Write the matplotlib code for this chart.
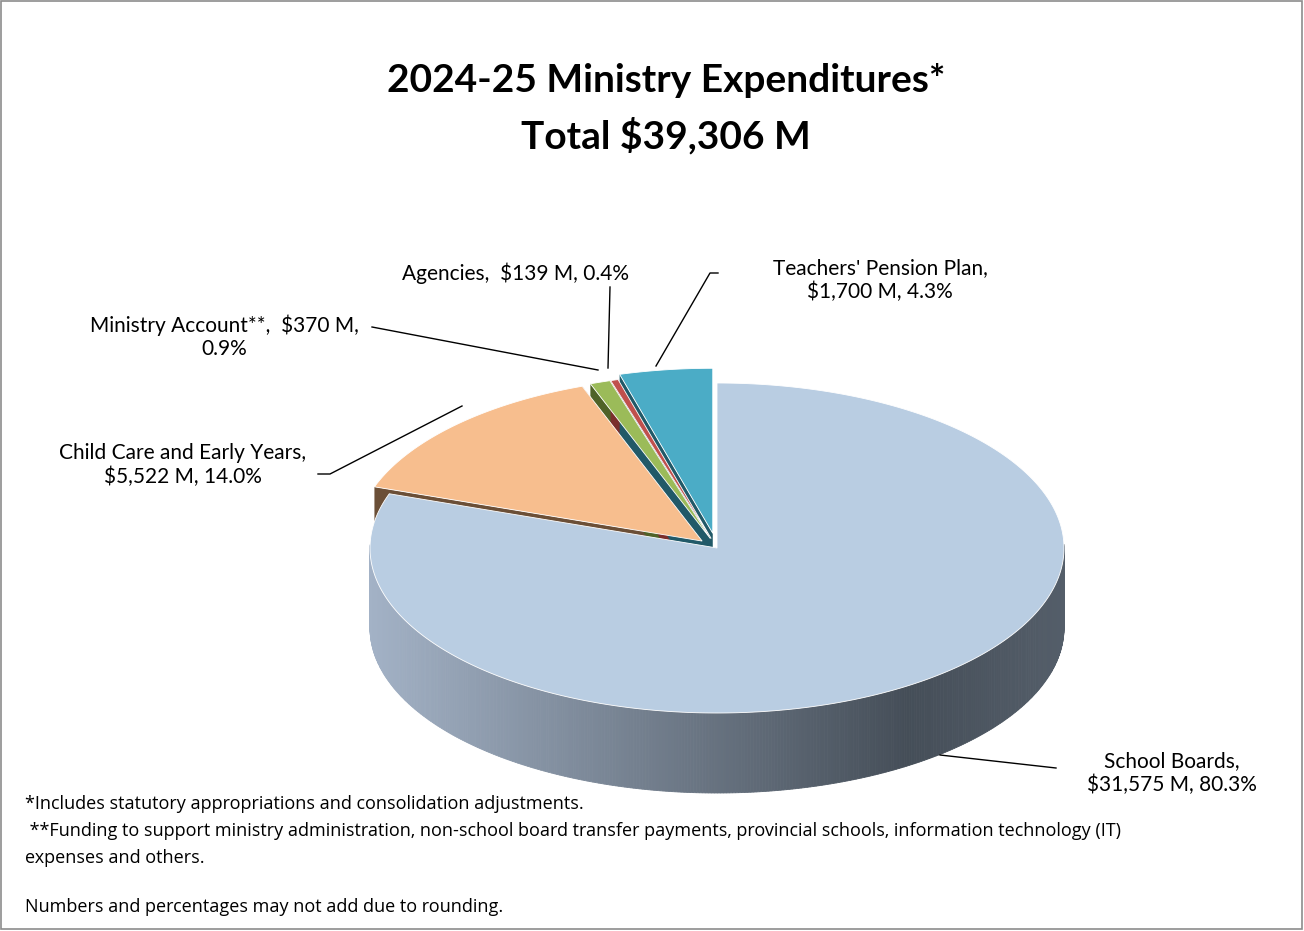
import numpy as np
import matplotlib.pyplot as plt
from matplotlib.patches import Polygon, Rectangle
from matplotlib.colors import to_rgb

categories = ["School Boards", "Child Care and Early Years", "Ministry Account**", "Agencies", "Teachers' Pension Plan"]
values = [31575, 5522, 370, 139, 1700]
percents = [80.3, 14.0, 0.9, 0.4, 4.3]
top_colors = ["#b9cde2", "#f7be8e", "#9bbb59", "#c0504d", "#4bacc6"]
side_colors = ["#8a9aae", "#6b4f37", "#4f6228", "#7a2e2c", "#215968"]
explode = [0.0, 0.06, 0.06, 0.06, 0.09]

# pixel-based layout
CX, CY, RX, RY, DEPTH = 717, 548, 347, 165, 80

fig = plt.figure(figsize=(13.04, 9.31), dpi=100)
ax = fig.add_axes([0, 0, 1, 1])
ax.set_xlim(0, 1304)
ax.set_ylim(931, 0)
ax.axis("off")
ax.add_patch(Rectangle((1, 1), 1301, 928, fill=False, edgecolor="#8c8c8c", lw=1.2))

total = sum(values)
angles = []
start = 90.0
for v in values:
    sweep = 360.0 * v / total
    angles.append((start - sweep, start))
    start -= sweep


def pt(theta, ox, oy, r=1.0, down=0.0):
    t = np.radians(theta)
    return (CX + ox + RX * r * np.cos(t), CY + oy - RY * r * np.sin(t) + down)


def offsets(i):
    a0, a1 = angles[i]
    mid = np.radians((a0 + a1) / 2)
    return RX * explode[i] * np.cos(mid), -RY * explode[i] * np.sin(mid)


def shade(theta):
    # light at left, darkest near lower right, slightly lighter at far right
    c_left, c_dark = np.array(to_rgb("#a3b2c6")), np.array(to_rgb("#454e58"))
    x = np.cos(np.radians(theta))
    f = np.clip((x + 1) / 1.55, 0, 1) if x < 0.55 else 1 - (x - 0.55) * 0.35
    return tuple(c_left + (c_dark - c_left) * f)


# radial cut faces (left edges that face the viewer)
for i in range(len(values)):
    ox, oy = offsets(i)
    a0, a1 = angles[i]
    for a in (a0, a1):
        c = pt(a, ox, oy, 0)
        e = pt(a, ox, oy)
        quad = [c, e, (e[0], e[1] + DEPTH), (c[0], c[1] + DEPTH)]
        ax.add_patch(Polygon(quad, closed=True, fc=side_colors[i], ec="none", zorder=1))

# outer walls, drawn in thin strips for shading
for i in range(len(values)):
    ox, oy = offsets(i)
    a0, a1 = angles[i]
    th = np.linspace(a0, a1, max(4, int((a1 - a0) * 2)))
    for t0, t1 in zip(th[:-1], th[1:]):
        tm = np.radians((t0 + t1) / 2)
        if np.sin(tm) > 0.02:
            continue
        p0, p1 = pt(t0, ox, oy), pt(t1, ox, oy)
        quad = [p0, p1, (p1[0], p1[1] + DEPTH), (p0[0], p0[1] + DEPTH)]
        col = shade((t0 + t1) / 2) if i == 0 else side_colors[i]
        ax.add_patch(Polygon(quad, closed=True, fc=col, ec=col, lw=0.6, zorder=2))

# top faces
for i in range(len(values)):
    ox, oy = offsets(i)
    a0, a1 = angles[i]
    th = np.linspace(a0, a1, max(3, int((a1 - a0) * 2)))
    poly = [pt(0, ox, oy, 0)] + [pt(t, ox, oy) for t in th]
    ax.add_patch(Polygon(poly, closed=True, fc=top_colors[i], ec="white", lw=0.6, zorder=3))

# labels with leader lines
lab_font = dict(family="Lato", fontsize=15, color="black", zorder=5)
labels = [f"{c},\n${v:,} M, {p:.1f}%" for c, v, p in zip(categories, values, percents)]
labels[2] = f"Ministry Account**,  ${values[2]:,} M,\n{percents[2]:.1f}%"
labels[3] = f"Agencies,  ${values[3]:,} M, {percents[3]:.1f}%"

ax.text(1172, 773, labels[0], ha="center", va="center", **lab_font)
ax.plot([1056, 940], [768, 755], color="black", lw=1, zorder=4)
ax.text(183, 465, labels[1], ha="center", va="center", **lab_font)
ax.plot([318, 330, 462], [474, 474, 406], color="black", lw=1, zorder=4)
ax.text(224, 337, labels[2], ha="center", va="center", **lab_font)
ax.plot([372, 598], [327, 370], color="black", lw=1, zorder=4)
ax.text(516, 273, labels[3], ha="center", va="center", **lab_font)
ax.plot([610, 608], [287, 368], color="black", lw=1, zorder=4)
ax.text(880, 280, labels[4], ha="center", va="center", **lab_font)
ax.plot([718, 710, 656], [273, 273, 366], color="black", lw=1, zorder=4)

ax.text(666, 80, "2024-25 Ministry Expenditures*", ha="center", va="center",
        family="Lato", fontweight="bold", fontsize=28)
ax.text(666, 136, "Total $39,306 M", ha="center", va="center",
        family="Lato", fontweight="bold", fontsize=28)

foot = dict(family="Open Sans", fontsize=13, color="black", ha="left", va="center")
ax.text(25, 804, "*Includes statutory appropriations and consolidation adjustments.", **foot)
ax.text(25, 831, " **Funding to support ministry administration, non-school board transfer payments, provincial schools, information technology (IT)", **foot)
ax.text(25, 858, "expenses and others.", **foot)
ax.text(25, 907, "Numbers and percentages may not add due to rounding.", **foot)

fig.savefig("out.png", dpi=100)
